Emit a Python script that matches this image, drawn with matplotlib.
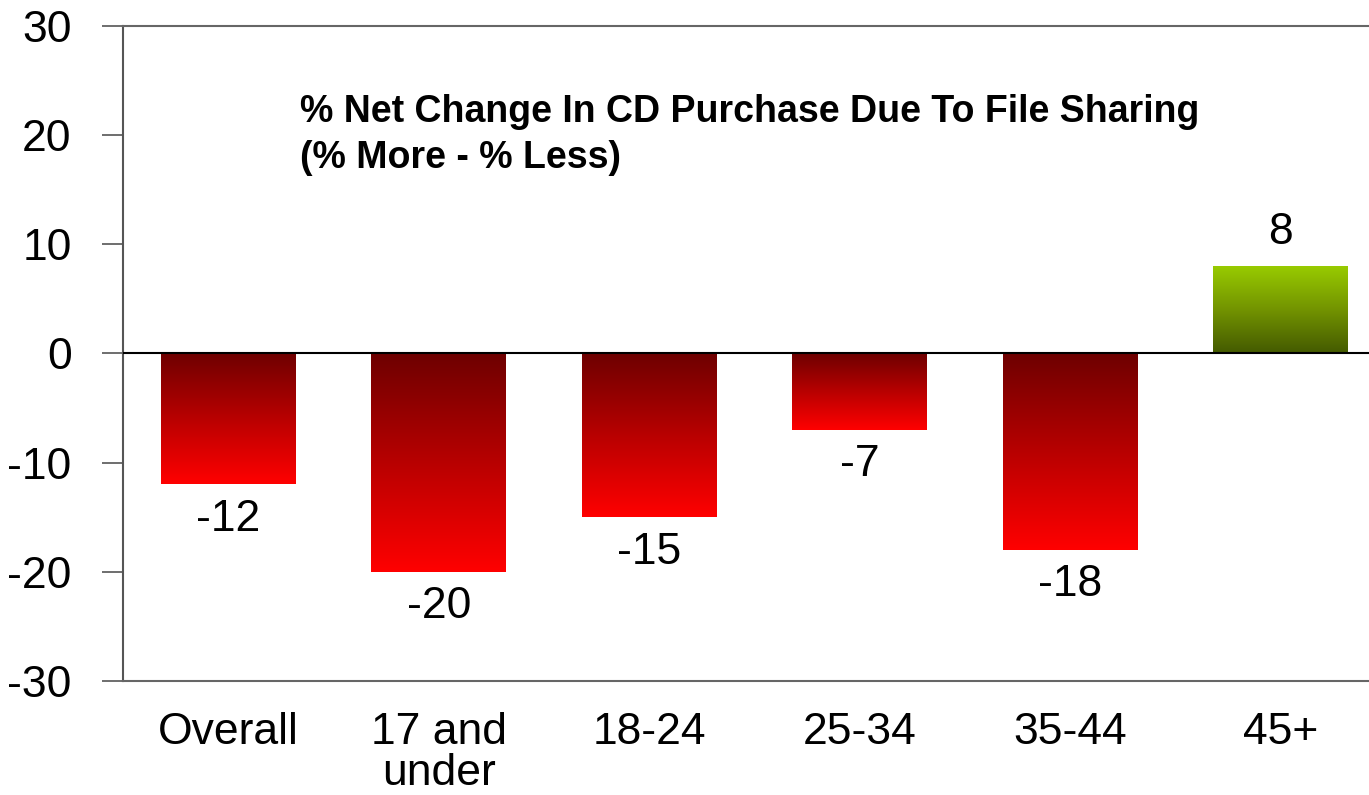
import numpy as np
import matplotlib.pyplot as plt
from matplotlib.colors import LinearSegmentedColormap

plt.rcParams['font.family'] = ['Liberation Sans', 'DejaVu Sans']
plt.rcParams['axes.unicode_minus'] = False

categories = ['Overall', '17 and\nunder', '18-24', '25-34', '35-44', '45+']
values = [-12, -20, -15, -7, -18, 8]

red_cmap = LinearSegmentedColormap.from_list('reds', ['#6e0000', '#b80000', '#ff0000'])
green_cmap = LinearSegmentedColormap.from_list('greens', ['#445a00', '#739400', '#99cc00'])

fig = plt.figure(figsize=(13.69, 7.95), dpi=100)
ax = fig.add_axes([0.0898, 0.1434, 0.9226, 0.8239])

x = np.arange(len(categories))
bars = ax.bar(x, values, width=0.64, color='none', edgecolor='none', zorder=2)

# gradient fill, dark at zero end for negatives, light at top for positive
grad = np.linspace(0, 1, 256).reshape(-1, 1)
for b, v in zip(bars, values):
    x0 = b.get_x()
    x1 = x0 + b.get_width()
    if v < 0:
        img = ax.imshow(grad, cmap=red_cmap, aspect='auto', origin='upper',
                        extent=[x0, x1, v, 0], zorder=2)
    else:
        img = ax.imshow(grad, cmap=green_cmap, aspect='auto', origin='lower',
                        extent=[x0, x1, 0, v], zorder=2)
    img.set_clip_path(b)

# value labels
for xi, v in zip(x, values):
    off = -3.2 if v < 0 else 3.1
    ax.text(xi, v + off, str(v), ha='center', va='center', fontsize=32)

ax.axhline(0, color='black', lw=1.5, zorder=3)

ax.set_xlim(-0.5, len(categories) - 0.5)
ax.set_ylim(-30, 30)
ax.set_yticks([-30, -20, -10, 0, 10, 20, 30])
ax.set_xticks(x)
ax.set_xticklabels(categories, fontsize=32, linespacing=1.0)
ax.tick_params(axis='x', length=0, pad=22)
ax.tick_params(axis='y', labelsize=32, length=15, width=1.2, color='#555555', pad=22)

for s in ['top', 'bottom']:
    ax.spines[s].set_color('#666666')
    ax.spines[s].set_linewidth(1.5)
ax.spines['left'].set_color('#555555')
ax.spines['left'].set_linewidth(1.5)
ax.spines['right'].set_visible(False)

ax.text(0.34, 20.0, '% Net Change In CD Purchase Due To File Sharing\n(% More - % Less)',
        fontsize=27, fontweight='bold', ha='left', va='center', linespacing=1.37)

fig.savefig('out.png', dpi=100)
